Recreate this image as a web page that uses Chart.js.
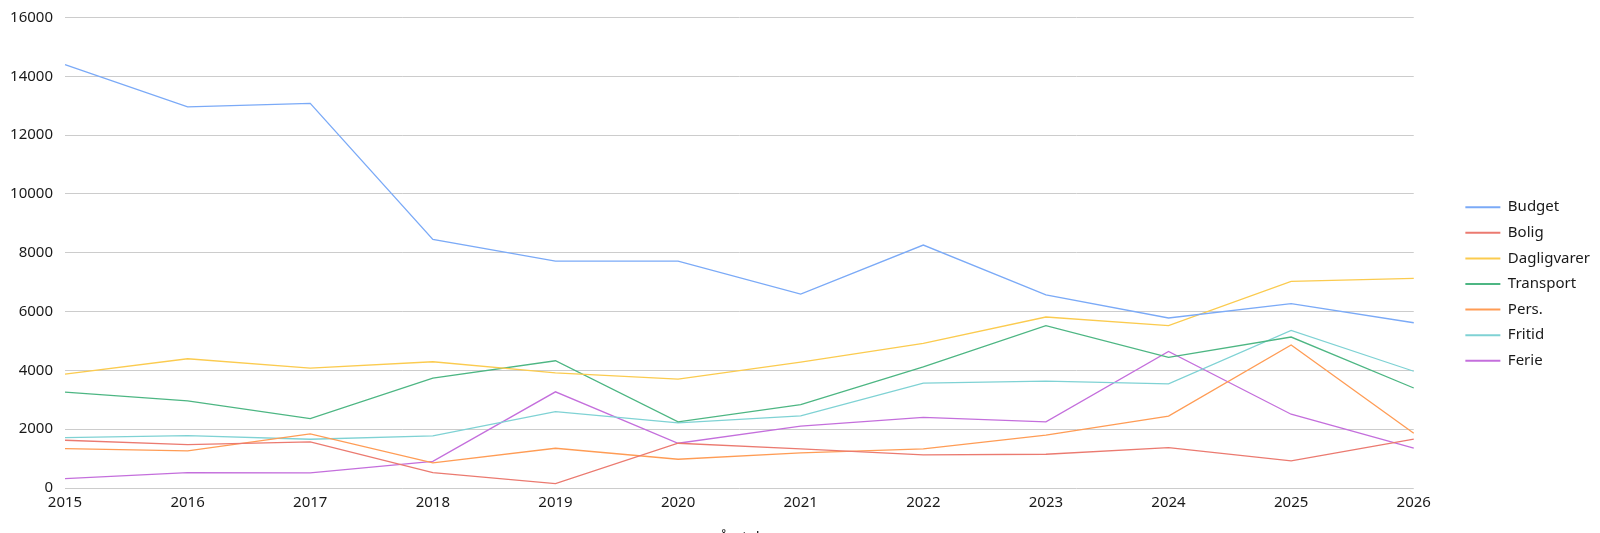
<!DOCTYPE html>
<html>
<head>
<meta charset="utf-8">
<script src="https://cdn.jsdelivr.net/npm/chart.js@4/dist/chart.umd.min.js"></script>
<style>
  html, body { margin: 0; padding: 0; background: #fff; overflow: hidden; }
  #wrap { width: 1600px; height: 568px; position: relative; }
</style>
</head>
<body>
<div id="wrap"><canvas id="c"></canvas></div>
<script>
const years = ["2015","2016","2017","2018","2019","2020","2021","2022","2023","2024","2025","2026"];
const budget      = [14400, 12960, 13080, 8455, 7716, 7716, 6591, 8261, 6565, 5782, 6269, 5620];
const bolig       = [1624, 1476, 1567, 522, 147, 1522, 1329, 1124, 1147, 1374, 920, 1660];
const dagligvarer = [3872, 4395, 4077, 4293, 3918, 3703, 4282, 4917, 5815, 5519, 7029, 7131];
const transport   = [3259, 2964, 2362, 3737, 4327, 2249, 2838, 4122, 5519, 4440, 5134, 3400];
const pers        = [1340, 1261, 1840, 852, 1352, 977, 1192, 1329, 1800, 2443, 4862, 1863];
const fritid      = [1715, 1783, 1658, 1772, 2600, 2215, 2453, 3566, 3634, 3543, 5360, 3970];
const ferie       = [318, 522, 511, 908, 3271, 1522, 2102, 2400, 2249, 4645, 2508, 1355];
const yTicks      = [0, 2000, 4000, 6000, 8000, 10000, 12000, 14000, 16000];

const seriesNames  = ["Budget", "Bolig", "Dagligvarer", "Transport", "Pers.", "Fritid", "Ferie"];
const seriesData   = [budget, bolig, dagligvarer, transport, pers, fritid, ferie];
const seriesColors = ["#7baaf7", "#eb7a70", "#fbcb4f", "#4db683", "#ff9c55", "#7fd2d4", "#c46fdc"];

const FONT = "'Noto Sans', 'Open Sans', sans-serif";
const TEXT = '#1a1a1a';

new Chart(document.getElementById('c'), {
  type: 'line',
  data: {
    labels: years,
    datasets: seriesNames.map((n, i) => ({
      label: n,
      data: seriesData[i],
      borderColor: seriesColors[i],
      backgroundColor: seriesColors[i],
      borderWidth: 1.3,
      pointRadius: 0,
      pointHoverRadius: 0,
      tension: 0,
      fill: false
    }))
  },
  options: {
    responsive: true,
    maintainAspectRatio: false,
    animation: false,
    layout: { padding: { left: 10, right: 0, top: 0, bottom: 0 } },
    plugins: {
      legend: {
        position: 'right',
        align: 'center',
        labels: {
          boxWidth: 35,
          boxHeight: 2,
          padding: 10.6,
          color: TEXT,
          font: { family: FONT, size: 15 },
          generateLabels: (chart) => {
            const items = Chart.defaults.plugins.legend.labels.generateLabels(chart);
            items.forEach(it => { it.lineWidth = 0; it.strokeStyle = 'rgba(0,0,0,0)'; });
            return items;
          }
        }
      },
      tooltip: { enabled: false }
    },
    scales: {
      x: {
        offset: false,
        grid: { display: false, drawTicks: false },
        border: { display: false },
        ticks: { color: TEXT, font: { family: FONT, size: 15 }, padding: 6, maxRotation: 0, autoSkip: false },
        title: { display: true, text: 'Årstal', color: TEXT, font: { family: FONT, size: 15 }, padding: { top: 11, bottom: 21 } }
      },
      y: {
        min: 0,
        max: 16000,
        afterBuildTicks: (s) => { s.ticks = yTicks.map(v => ({ value: v })); },
        afterFit: (s) => { s.width = 55; s.paddingTop = 17.5; s.paddingBottom = 0; },
        grid: { color: '#cccccc', lineWidth: 1, drawTicks: false },
        border: { display: false },
        ticks: { color: TEXT, font: { family: FONT, size: 15 }, padding: 12, callback: (v) => String(v) }
      },
      y2: {
        position: 'right',
        display: true,
        grid: { display: false, drawTicks: false },
        border: { display: false },
        ticks: { display: false },
        afterFit: (s) => { s.width = 41; s.paddingTop = 0; s.paddingBottom = 0; }
      }
    }
  }
});
</script>
</body>
</html>
